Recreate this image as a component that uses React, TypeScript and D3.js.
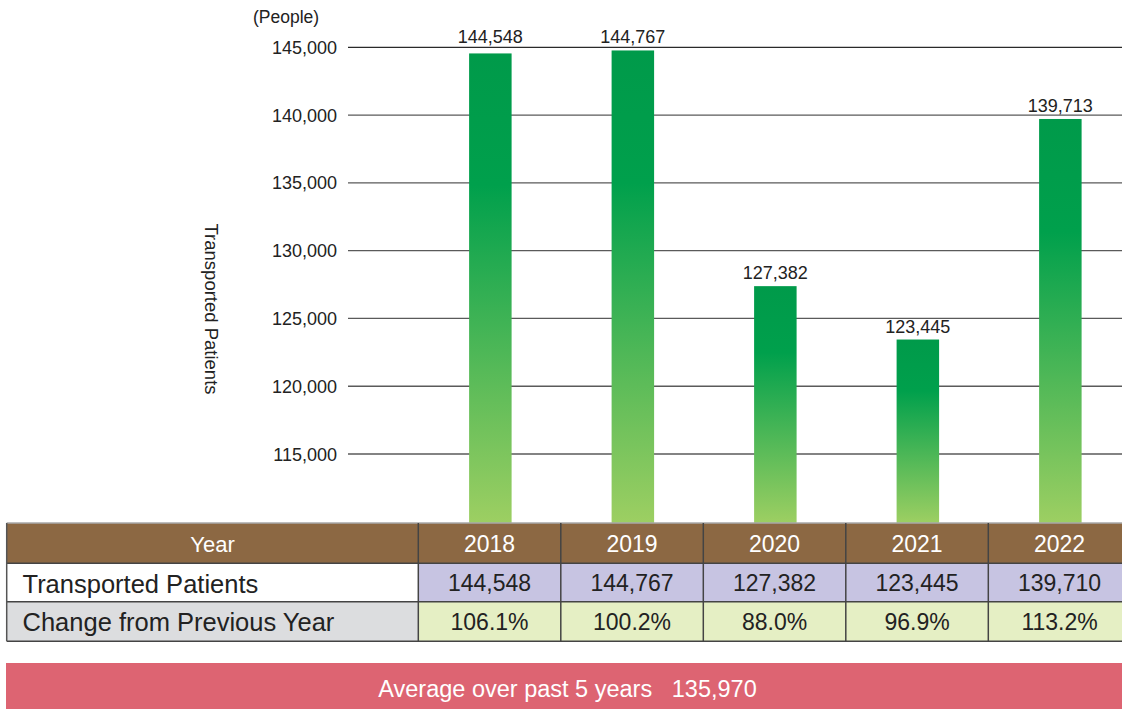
import React from "react";
import * as d3 from "d3";

const years = ["2018", "2019", "2020", "2021", "2022"];
const barValues = [144548, 144767, 127382, 123445, 139713];
const tableValues = ["144,548", "144,767", "127,382", "123,445", "139,710"];
const changeValues = ["106.1%", "100.2%", "88.0%", "96.9%", "113.2%"];
const yTicks = [115000, 120000, 125000, 130000, 135000, 140000, 145000];
const averageText = "Average over past 5 years\u00a0\u00a0\u00a0135,970";

const W = 1122;
const H = 709;
const FONT = "'Liberation Sans', Arial, Helvetica, sans-serif";

export default function App() {
  const tableLeft = 6.7;
  const firstColRight = 418.3;
  const colW = 142.5;
  const rowTops = [523, 563.3, 601.8, 641.2];

  const x = d3
    .scaleBand<string>()
    .domain(years)
    .range([firstColRight, firstColRight + colW * years.length])
    .paddingInner(0)
    .paddingOuter(0);

  const y = d3.scaleLinear().domain([110000, 145000]).range([521.8, 47.3]);
  const fmt = d3.format(",");
  const yTop = y(145000);

  const barW = 42.5;
  const gridX1 = 348;
  const gridX2 = W;

  return (
    <svg
      width={W}
      height={H}
      style={{ position: "absolute", left: 0, top: 0, display: "block", background: "#fff" }}
      fontFamily={FONT}
    >
      <defs>
        <linearGradient id="barGrad" x1="0" y1="0" x2="0" y2="1">
          <stop offset="0%" stopColor="#009a4a" />
          <stop offset="28%" stopColor="#00a04c" />
          <stop offset="100%" stopColor="#9dcf62" />
        </linearGradient>
      </defs>

      {yTicks.map((t, i) => (
        <line
          key={t}
          x1={gridX1}
          x2={gridX2}
          y1={y(t)}
          y2={y(t)}
          stroke={i === yTicks.length - 1 ? "#2a2a2a" : "#5a5a5a"}
          strokeWidth={1.3}
        />
      ))}

      {yTicks.map((t) => (
        <text key={t} x={337} y={y(t) + 6.5} textAnchor="end" fontSize={18} fill="#222">
          {fmt(t)}
        </text>
      ))}

      <text x={253} y={23} fontSize={17.5} fill="#222">
        (People)
      </text>

      <text
        transform={`translate(205,309) rotate(90)`}
        textAnchor="middle"
        fontSize={18.5}
        fill="#222"
      >
        Transported Patients
      </text>

      {years.map((yr, i) => {
        const cx = (x(yr) as number) + x.bandwidth() / 2 + 0.8;
        const top = y(barValues[i]);
        let ly = top - 7;
        if (ly > yTop - 4 && ly - 14 < yTop + 2) ly = yTop - 4;
        return (
          <g key={yr}>
            <rect
              x={cx - barW / 2}
              y={top}
              width={barW}
              height={rowTops[0] - top}
              fill="url(#barGrad)"
            />
            <text x={cx} y={ly} textAnchor="middle" fontSize={18} fill="#222">
              {fmt(barValues[i])}
            </text>
          </g>
        );
      })}

      <rect x={tableLeft} y={rowTops[0]} width={W} height={rowTops[1] - rowTops[0]} fill="#8c6843" />
      <rect x={tableLeft} y={rowTops[1]} width={firstColRight - tableLeft} height={rowTops[2] - rowTops[1]} fill="#ffffff" />
      <rect x={firstColRight} y={rowTops[1]} width={W} height={rowTops[2] - rowTops[1]} fill="#c7c4e2" />
      <rect x={tableLeft} y={rowTops[2]} width={firstColRight - tableLeft} height={rowTops[3] - rowTops[2]} fill="#dcdddf" />
      <rect x={firstColRight} y={rowTops[2]} width={W} height={rowTops[3] - rowTops[2]} fill="#e5efc4" />

      <line x1={tableLeft} x2={W} y1={rowTops[0]} y2={rowTops[0]} stroke="#a9a9a9" strokeWidth={1.5} />
      {rowTops.slice(1).map((ry) => (
        <line key={ry} x1={tableLeft} x2={W} y1={ry} y2={ry} stroke="#444" strokeWidth={1.5} />
      ))}
      <line x1={tableLeft} x2={tableLeft} y1={rowTops[0]} y2={rowTops[3]} stroke="#555" strokeWidth={1.5} />
      {[firstColRight, ...years.slice(1).map((yr) => x(yr) as number)].map((lx) => (
        <line key={lx} x1={lx} x2={lx} y1={rowTops[0]} y2={rowTops[3]} stroke="#444" strokeWidth={1.5} />
      ))}

      <text x={(tableLeft + firstColRight) / 2} y={551.5} textAnchor="middle" fontSize={22} fill="#fff">
        Year
      </text>
      <text x={22.5} y={592.5} fontSize={25.5} fill="#222">
        Transported Patients
      </text>
      <text x={22.5} y={631} fontSize={25.5} fill="#222">
        Change from Previous Year
      </text>
      {years.map((yr, i) => {
        const cx = (x(yr) as number) + x.bandwidth() / 2;
        return (
          <g key={"t" + yr}>
            <text x={cx} y={551.5} textAnchor="middle" fontSize={23} fill="#fff">
              {yr}
            </text>
            <text x={cx} y={590.5} textAnchor="middle" fontSize={23} fill="#222">
              {tableValues[i]}
            </text>
            <text x={cx} y={630} textAnchor="middle" fontSize={23} fill="#222">
              {changeValues[i]}
            </text>
          </g>
        );
      })}

      <rect x={6} y={663} width={W - 6} height={H - 663} fill="#dd6472" />
      <text x={567.5} y={696.5} textAnchor="middle" fontSize={23.5} fill="#fff">
        {averageText}
      </text>
    </svg>
  );
}
